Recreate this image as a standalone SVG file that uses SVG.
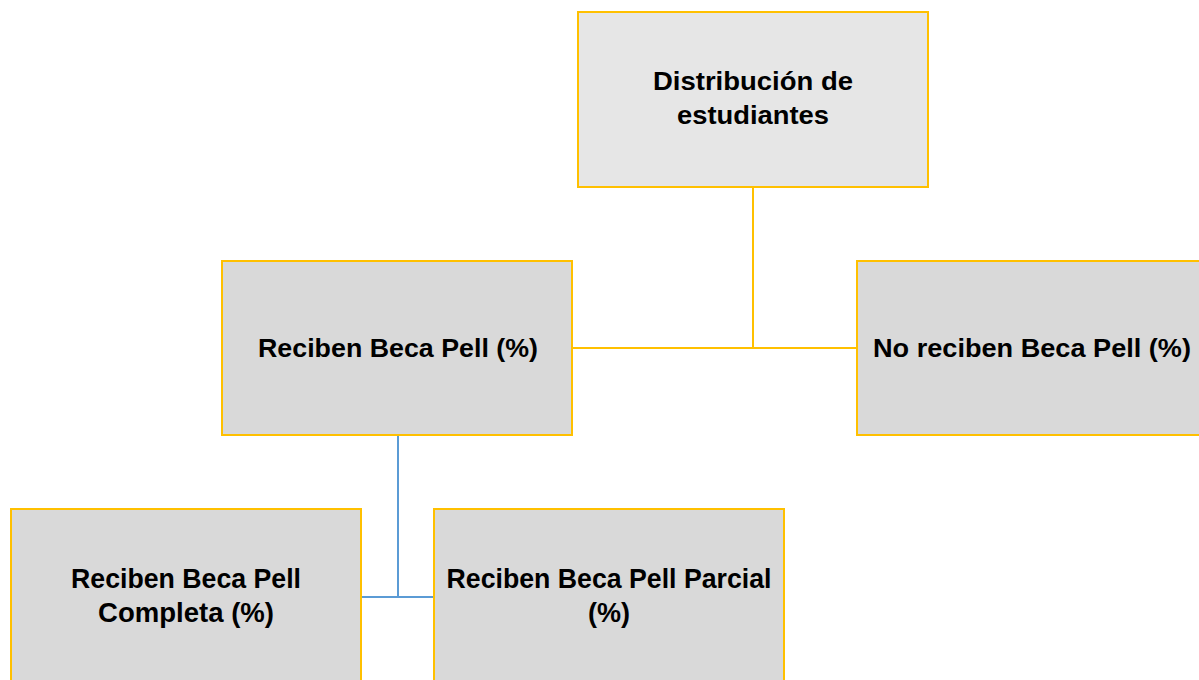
<svg xmlns="http://www.w3.org/2000/svg" width="1199" height="680" viewBox="0 0 1199 680">
<style>
.box{fill:#d9d9d9;stroke:#ffc000;stroke-width:2}
.top{fill:#e6e6e6}
.t{font-family:"Liberation Sans",Arial,sans-serif;font-weight:bold;font-size:26px;fill:#000;text-anchor:middle}
.b{font-size:28px}
.gold{stroke:#ffc000;stroke-width:2;fill:none}
.blue{stroke:#5b9bd5;stroke-width:2;fill:none}
</style>
<rect width="1199" height="680" fill="#fff"/>
<g id="connectors">
<path class="gold" d="M753 187V348M573 348H857"/>
<path class="blue" d="M398 435V597M361 597H434"/>
</g>
<g id="n-dist">
<rect class="box top" x="578" y="12" width="350" height="175"/>
<text class="t" x="753" y="90" textLength="200" lengthAdjust="spacingAndGlyphs">Distribución de</text>
<text class="t" x="753" y="124" textLength="152" lengthAdjust="spacingAndGlyphs">estudiantes</text>
</g>
<g id="n-reciben">
<rect class="box" x="222" y="261" width="350" height="174"/>
<text class="t" x="398" y="357" textLength="280" lengthAdjust="spacingAndGlyphs">Reciben Beca Pell (%)</text>
</g>
<g id="n-noreciben">
<rect class="box" x="857" y="261" width="350" height="174"/>
<text class="t" x="1032" y="357" textLength="318" lengthAdjust="spacingAndGlyphs">No reciben Beca Pell (%)</text>
</g>
<g id="n-completa">
<rect class="box" x="11" y="509" width="350" height="180"/>
<text class="t b" x="186" y="588" textLength="230" lengthAdjust="spacingAndGlyphs">Reciben Beca Pell</text>
<text class="t b" x="186" y="622" textLength="176" lengthAdjust="spacingAndGlyphs">Completa (%)</text>
</g>
<g id="n-parcial">
<rect class="box" x="434" y="509" width="350" height="180"/>
<text class="t b" x="609" y="588" textLength="325" lengthAdjust="spacingAndGlyphs">Reciben Beca Pell Parcial</text>
<text class="t b" x="609" y="622" textLength="42" lengthAdjust="spacingAndGlyphs">(%)</text>
</g>
</svg>
